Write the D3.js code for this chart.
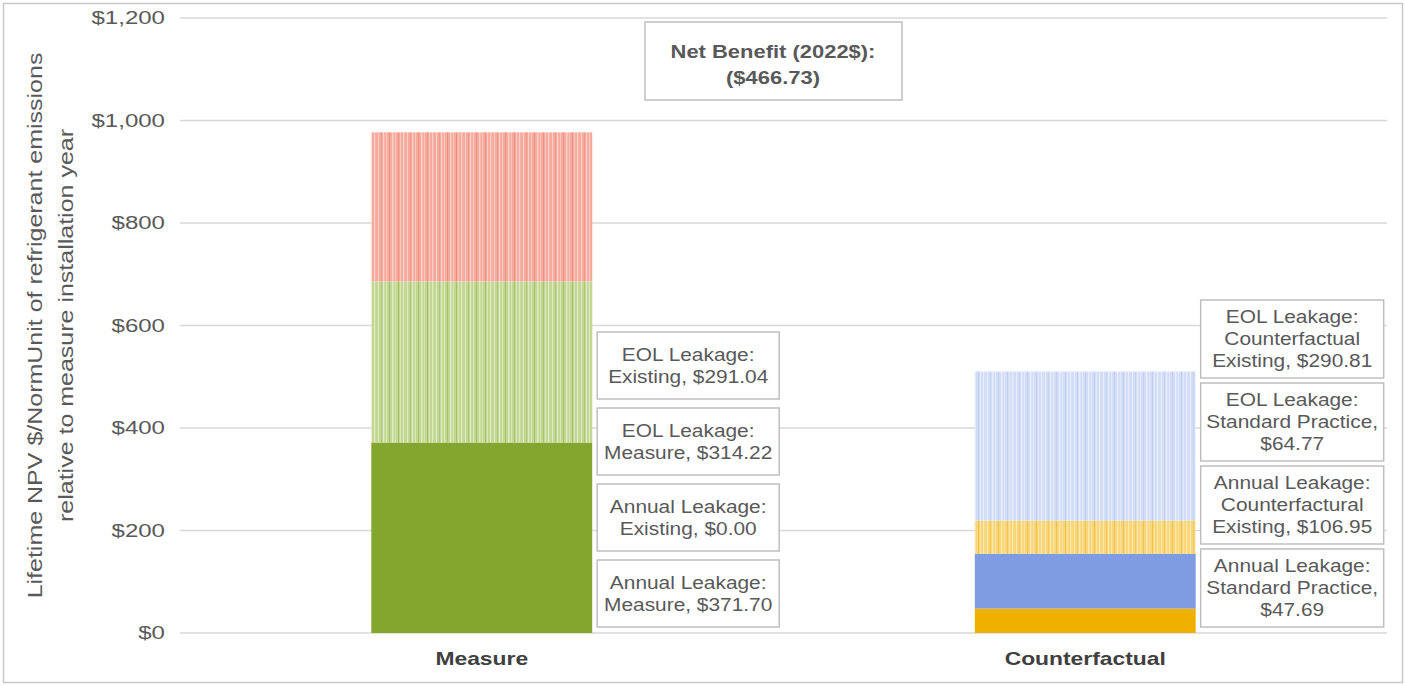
<!DOCTYPE html>
<html>
<head>
<meta charset="utf-8">
<script src="https://cdn.jsdelivr.net/npm/d3@7"></script>
<style>
  body { margin: 0; background: #fff; }
  svg text { font-family: Arial, "Liberation Sans", sans-serif; }
</style>
</head>
<body>
<figure style="margin:0"></figure>
<script>
// data
const categories = ["Measure", "Counterfactual"];
const measureSeries = ["Annual Leakage: Measure", "Annual Leakage: Existing", "EOL Leakage: Measure", "EOL Leakage: Existing"];
const measureValues = [371.70, 0.00, 314.22, 291.04];
const measureLabels = [["Annual Leakage:", "Measure, $371.70"], ["Annual Leakage:", "Existing, $0.00"], ["EOL Leakage:", "Measure, $314.22"], ["EOL Leakage:", "Existing, $291.04"]];
const cfSeries = ["Annual Leakage: Standard Practice", "Annual Leakage: Counterfactual Existing", "EOL Leakage: Standard Practice", "EOL Leakage: Counterfactual Existing"];
const cfValues = [47.69, 106.95, 64.77, 290.81];
const cfLabels = [["Annual Leakage:", "Standard Practice,", "$47.69"], ["Annual Leakage:", "Counterfactural", "Existing, $106.95"], ["EOL Leakage:", "Standard Practice,", "$64.77"], ["EOL Leakage:", "Counterfactual", "Existing, $290.81"]];
const yTicks = [0, 200, 400, 600, 800, 1000, 1200];
const netBenefitText = ["Net Benefit (2022$):", "($466.73)"];
const yTitle = ["Lifetime NPV $/NormUnit of refrigerant emissions", "relative to measure installation year"];

function buildChart() {
    const width = 1405, height = 685;
    const left = 180, right = 1387, top = 18, bottom = 633;
    const grey = "#595959";

    const svg = d3.select("figure").append("svg")
        .attr("width", width).attr("height", height);

    // outer frame
    svg.append("rect").attr("x", 3.5).attr("y", 3.5)
        .attr("width", width - 6).attr("height", height - 6)
        .attr("fill", "#fff").attr("stroke", "#c9c9c9").attr("stroke-width", 1.5);

    // striped fills (vertical lines like the Excel pattern)
    const defs = svg.append("defs");
    function stripes(id, base, light, dark) {
        const p = defs.append("pattern").attr("id", id)
            .attr("patternUnits", "userSpaceOnUse").attr("width", 29).attr("height", 10);
        p.append("rect").attr("width", 29).attr("height", 10).attr("fill", base);
        [[1, 1, light], [4, 0.7, dark], [6, 1.2, light], [9, 0.8, light], [12, 1, dark],
         [15, 1.4, light], [18, 0.7, light], [21, 1, dark], [23, 0.8, light], [26, 1.2, light]]
            .forEach(s => p.append("rect").attr("x", s[0]).attr("width", s[1]).attr("height", 10).attr("fill", s[2]));
    }
    stripes("redS", "#f6ab9f", "#fbd0c8", "#f09081");
    stripes("greenS", "#c2d794", "#e0ebc4", "#a7c169");
    stripes("blueS", "#d3ddf6", "#e8eefb", "#c0cff2");
    stripes("yellowS", "#f9d67a", "#fce7ac", "#f2c34c");

    const measureFills = ["#84a52e", "#84a52e", "url(#greenS)", "url(#redS)"];
    const cfFills = ["#efb000", "#7f9be2", "url(#yellowS)", "url(#blueS)"];

    const xScale = d3.scaleBand().domain(categories).range([left, right]).paddingInner(0.634).paddingOuter(0.317);
    const yScale = d3.scaleLinear().domain([0, 1200]).range([bottom, top]);

    // the original picture is a bit wide, so text gets stretched sideways
    const wide = (x, y, sx) => "translate(" + x + "," + y + ") scale(" + sx + ",1)";

    // gridlines
    svg.append("g").selectAll("line").data(yTicks).enter().append("line")
        .attr("x1", left).attr("x2", right)
        .attr("y1", d => yScale(d)).attr("y2", d => yScale(d))
        .attr("stroke", "#d9d9d9").attr("stroke-width", 1.3);

    // y tick labels
    svg.append("g").selectAll("text").data(yTicks).enter().append("text")
        .attr("transform", d => wide(165, yScale(d), 1.3)).attr("dy", "0.35em")
        .attr("text-anchor", "end").attr("font-size", 18.5).attr("fill", grey)
        .text(d => "$" + d3.format(",")(d));

    // y title
    const yt = svg.append("text").attr("transform", "translate(42," + ((top + bottom) / 2) + ") rotate(-90) scale(1.19,1)")
        .attr("text-anchor", "middle").attr("font-size", 21).attr("fill", grey);
    yTitle.forEach((t, i) => yt.append("tspan").attr("x", 0).attr("dy", i === 0 ? 0 : 31).text(t));

    // stacked bars
    function stackBar(cat, values, fills) {
        const g = svg.append("g");
        let base = 0;
        values.forEach((v, i) => {
            g.append("rect")
                .attr("x", xScale(cat)).attr("width", xScale.bandwidth())
                .attr("y", yScale(base + v)).attr("height", yScale(base) - yScale(base + v))
                .attr("fill", fills[i]);
            base += v;
        });
    }
    stackBar("Measure", measureValues, measureFills);
    stackBar("Counterfactual", cfValues, cfFills);

    // category labels
    svg.append("g").selectAll("text").data(categories).enter().append("text")
        .attr("transform", d => wide(xScale(d) + xScale.bandwidth() / 2, 665, 1.27))
        .attr("text-anchor", "middle").attr("font-size", 18).attr("font-weight", "bold")
        .attr("fill", "#404040").text(d => d);

    // data label boxes, stacked up from the axis next to each bar
    function labelBoxes(cat, labels, boxW, lineH, pad, gap) {
        const x0 = xScale(cat) + xScale.bandwidth() + 5;
        let yb = bottom - 6;
        labels.forEach(lines => {
            const h = lines.length * lineH + pad;
            const g = svg.append("g").attr("transform", "translate(" + x0 + "," + (yb - h) + ")");
            g.append("rect").attr("width", boxW).attr("height", h)
                .attr("fill", "#fff").attr("stroke", "#bfbfbf").attr("stroke-width", 1.5);
            const t = g.append("text").attr("transform", wide(boxW / 2, h / 2, 1.18))
                .attr("text-anchor", "middle").attr("font-size", 17.7).attr("fill", grey);
            lines.forEach((l, i) => t.append("tspan").attr("x", 0)
                .attr("y", (i - (lines.length - 1) / 2) * lineH).attr("dy", "0.35em").text(l));
            yb -= h + gap;
        });
    }
    labelBoxes("Measure", measureLabels, 182, 22, 23, 9);
    labelBoxes("Counterfactual", cfLabels, 183, 22, 12, 5);

    // net benefit box
    const nb = svg.append("g").attr("transform", "translate(645,22)");
    nb.append("rect").attr("width", 257).attr("height", 78)
        .attr("fill", "#fff").attr("stroke", "#bfbfbf").attr("stroke-width", 1.5);
    const nt = nb.append("text").attr("transform", wide(128, 0, 1.22)).attr("text-anchor", "middle")
        .attr("font-size", 18).attr("font-weight", "bold").attr("fill", grey);
    netBenefitText.forEach((l, i) => nt.append("tspan").attr("x", 0).attr("y", 30 + i * 26).attr("dy", "0.35em").text(l));
}

buildChart();
</script>
</body>
</html>
